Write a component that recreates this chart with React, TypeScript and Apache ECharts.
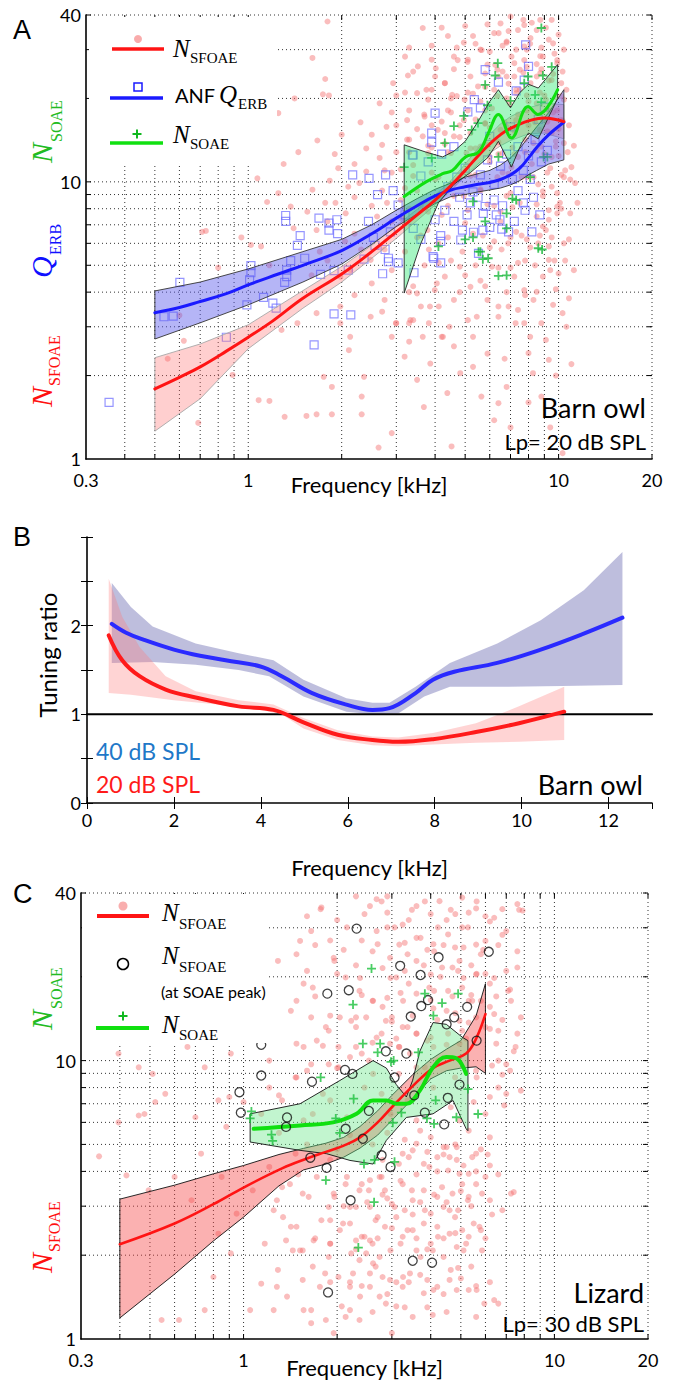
import React, { useEffect, useRef } from "react";
import * as echarts from "echarts";

const SANS = "Lato, 'Open Sans', sans-serif";
const SERIF = "'Liberation Serif', 'DejaVu Serif', serif";
const RED = "#ff1414";
const BLUE = "#1a1aff";
const GREEN = "#10e010";
const TXT_GREEN = "#22bb22";

// ---------------- grid / tick values ----------------
const logGridX = [0.4, 0.5, 0.6, 0.7, 0.8, 0.9, 1, 2, 3, 4, 5, 6, 7, 8, 9, 10, 20];
const logGridY = [2, 3, 4, 5, 6, 7, 8, 9, 10, 20, 30, 40];

// ---------------- Panel A (barn owl) ----------------
const aSfoaeLine = [[0.5,1.79],[0.6,1.97],[0.7,2.15],[0.85,2.45],[1.0,2.75],[1.2,3.15],[1.5,3.8],[2.0,4.65],[2.5,5.6],[3.0,6.6],[3.5,7.6],[4.0,8.6],[4.5,9.7],[5.0,11.0],[5.5,12.4],[6.0,13.7],[6.5,14.8],[7.0,15.6],[8.0,16.6],[9.0,17.0],[10.4,16.5]];
const aSfoaeUp = [[0.5,2.32],[0.7,2.6],[1.0,3.05],[1.5,4.05],[2.0,4.95],[2.5,5.9],[3.0,6.95],[3.5,7.95],[4.0,8.95],[4.5,10.1],[5.0,11.6],[5.5,13.2],[6.0,14.8],[6.5,16.2],[7.0,17.2],[8.0,18.5],[9.0,19.2],[10.4,19.0]];
const aSfoaeLo = [[0.5,1.26],[0.7,1.65],[1.0,2.5],[1.5,3.5],[2.0,4.35],[2.5,5.3],[3.0,6.25],[3.5,7.25],[4.0,8.25],[4.5,9.3],[5.0,10.5],[5.5,11.6],[6.0,12.7],[6.5,13.5],[7.0,14.1],[8.0,14.9],[9.0,15.0],[10.4,14.3]];
const aQerbLine = [[0.5,3.37],[0.6,3.52],[0.7,3.7],[0.85,3.95],[1.0,4.25],[1.25,4.65],[1.5,5.0],[2.0,5.65],[2.5,6.5],[3.0,7.4],[3.5,8.2],[4.0,8.9],[4.5,9.35],[5.0,9.6],[5.5,9.8],[6.0,9.95],[6.5,10.2],[7.0,10.6],[7.5,11.2],[8.0,12.2],[8.5,13.3],[9.3,14.8],[10.4,16.4]];
const aQerbUp = [[0.5,4.04],[0.7,4.35],[1.0,4.85],[1.5,5.6],[2.0,6.2],[2.5,7.0],[3.0,7.9],[3.5,8.7],[4.0,9.4],[4.5,9.9],[5.0,10.4],[5.5,10.7],[6.0,11.0],[6.5,11.5],[7.0,12.2],[7.5,13.2],[8.0,14.5],[8.5,15.8],[9.3,17.8],[10.4,21.5]];
const aQerbLo = [[0.5,2.71],[0.7,3.1],[1.0,3.6],[1.5,4.35],[2.0,5.05],[2.5,5.95],[3.0,6.9],[3.5,7.65],[4.0,8.35],[4.5,8.85],[5.0,9.0],[5.5,9.2],[6.0,9.35],[6.5,9.5],[7.0,9.75],[7.5,10.1],[8.0,10.6],[8.5,11.0],[9.3,11.6],[10.4,12.0]];
const aSoaeLine = [[3.18,8.85],[3.74,10.0],[4.23,10.7],[4.55,11.0],[5.01,12.3],[5.52,12.8],[5.94,15.0],[6.4,17.5],[7.05,14.4],[7.97,18.7],[8.58,17.5],[9.93,21.5]];
const aSoaeUp = [[3.18,13.6],[3.74,12.8],[4.23,12.3],[4.6,12.9],[5.0,14.0],[5.5,16.5],[6.0,19.5],[6.4,21.5],[7.0,18.5],[7.5,21.0],[8.0,22.5],[8.6,21.8],[9.93,26.5]];
const aSoaeLo = [[3.18,3.97],[3.6,6.0],[4.1,8.4],[4.6,9.8],[5.2,10.8],[5.9,12.2],[6.4,14.0],[7.05,11.3],[7.6,13.8],[8.0,15.0],[8.6,14.3],[9.93,20.0]];

const aSfoaeDotsLow = [
[0.62,2.67],[0.69,1.35],[0.89,2.01],[1.08,1.63],[1.17,1.62],[1.31,1.42],[1.54,1.43],[1.66,1.45],[1.75,1.98],[1.86,1.82],[1.86,1.45],[1.98,3.55],[2.11,2.47],[2.32,1.45],[2.36,1.98],[2.32,1.68],[2.63,1.1],[2.9,1.24],[2.99,3.09],[3.19,2.34],[3.4,3.17],[3.5,1.93],[3.68,1.54],[3.86,2.21],[4.24,2.76],[4.38,1.73],[4.52,1.11],[4.82,2.04],[5.3,2.15],[5.64,1.68],[6.2,1.38],[6.4,1.59],[6.8,1.82],[7.27,3.09],[8.0,2.41],[8.27,2.04],[8.8,1.68],[9.1,2.69],[9.3,2.28],[10.0,4.67],[10.3,3.36],[10.3,1.05],[8.5,4.01],[6.4,3.55],[5.1,3.17],
[10.8,6.2],[11.2,4.8],[10.6,3.0],[11.0,2.2],[9.6,3.6],[9.8,2.0],[8.6,6.0],[7.8,5.2],[7.0,4.9],[6.7,2.3],[5.9,2.4],[5.0,4.6],[5.6,4.4],[6.0,5.8],[7.6,6.4],[8.0,1.6],[7.0,1.3],[9.4,1.3]
];
const aSfoaeDotsMid = [
[1.80,37.9],[1.61,28],[1.77,23.5],[1.74,20.7],[1.82,20.5],[1.41,20],[1.25,17.7],[1.67,14.1],[1.83,10.1],[1.61,9.37],[1.25,9.1],[1.15,8.46],[1.37,8.14],[0.73,6.65],[1.66,6.7],[1.80,7.2],
[1.07,10.3],[0.71,6.6],[1.02,5.92],[1.1,5.85],[1.17,5.0],[1.77,8.4],[1.91,8.4],[2.06,7.7],[2.28,9.9],[2.65,12.2],[2.75,11.0],[2.2,6.5],[2.31,5.7],[2.48,5.23],[2.75,5.7],[2.13,4.8],[1.98,4.55],[1.66,3.36],[1.44,3.09],[1.28,2.92],[1.98,3.09],[2.13,2.76],[2.48,3.26],[2.75,3.75],[3.0,3.09],[2.9,2.76],[3.33,3.17],[3.65,2.76],[3.5,3.96],[3.85,3.55],[4.05,4.3],
[3.78,6.7],[3.82,5.7],[4.11,5.1],[4.3,4.55],[3.99,4.07],[3.6,3.55],[4.11,3.55],[4.6,3.75],[3.82,3.09],[3.3,3.09],[4.2,2.76],[3.3,2.65],[4.8,4.94],[6.1,4.94],[6.55,5.7],[6.88,6.0],[7.2,4.55],[7.75,4.07],[8.3,3.75],[8.9,4.55],[9.3,5.23],[9.1,6.7],[9.3,5.85],[9.9,7.7],[10.2,10.6],[9.9,9.1],[9.3,7.3],[8.5,7.5],[8.9,9.25],[7.4,3.45],[7.75,3.09],[6.9,3.55],[6.4,3.26],[5.9,3.75],[5.45,3.26],[5.3,2.76],[4.45,3.0],[4.6,2.55],[8.1,2.76],[8.8,3.09],[5.2,4.18],
[1.3,11.6],[1.45,12.8],[1.55,7.8],[1.95,11.2],[2.05,6.1],[1.7,5.6],[1.4,6.8],[0.8,4.9],[0.95,6.3],[0.6,3.3],[0.55,2.3],
[2.2,8.8],[2.4,10.9],[2.6,7.5],[2.8,8.4],[2.5,14.8],[2.7,13.6],[2.9,17.8],[3.0,20.5],[2.3,16.4],[2.1,9.6],[1.9,12.6],[2.5,4.3],[2.7,3.4],[2.2,3.9],[1.8,5.2],[1.6,4.6],[2.9,4.8],[3.2,5.6],[3.4,4.2]
];
const aSfoaeDotsHigh = [
[3.65,35.9],[4.02,25.7],[2.93,22.7],[2.65,19.2],[3.27,24.2],[2.79,15.8],[3.69,17.5],[3.25,16.7],[4.73,27.5],[5.09,27.1],[6.41,34.4],[6.8,32.1],[7.75,36.8],[8.73,38.4],[8.12,33],[7.2,26.8],[8.73,28.4],[9.6,31.6],[9.9,27.5],[10.2,22.7],[6.4,24],[5.8,22],[4.98,19.8],[7.3,20.9],[8.12,22.7],[4.3,22.7],[4.54,20.6],[3.75,21.5],[4.3,15],[5.1,18.1],[7.75,27.5],[5.65,29.9],[6.25,26.4],[7.75,30.8],[8.73,24.7],[9.9,18.1],[10.4,19.8],
[3.2,9.5],[3.4,11.5],[3.6,8.2],[3.8,13.5],[4.0,10.2],[4.2,7.6],[4.4,12.8],[4.6,8.9],[4.8,14.5],[5.0,7.1],[5.2,10.5],[5.4,13.2],[5.6,9.4],[5.8,16.2],[6.0,11.8],[6.2,8.2],[6.4,13.9],[6.6,10.8],[6.8,15.8],[7.0,9.1],[7.2,12.6],[7.4,17.5],[7.6,10.4],[7.8,14.2],[8.0,19.5],[8.2,11.6],[8.4,16.4],[8.6,9.8],[8.8,13.4],[9.0,20.5],[9.2,15.2],[9.4,11.2],[9.6,17.8],[9.8,14.0],[10.0,12.4],[10.3,16.6],[3.3,14.2],[3.9,16.0],[4.5,17.8],[5.3,20.8],[6.1,18.4],[6.9,22.6],[7.7,24.8],[8.5,26.6],[9.3,23.2],[3.1,7.4],[3.5,6.3],[4.1,6.0],[4.9,5.6],[5.7,6.4],[6.5,7.2],[7.3,6.6],[8.1,5.8],[8.9,6.9],[9.7,5.2],[10.1,8.4],[10.5,11.0],[2.5,8.2],[2.7,9.3],[2.9,10.8],[2.4,13.2],[2.2,11.6],[2.0,14.8],[2.9,7.2],[3.0,12.8],
[4.4,33.6],[3.3,30.5],[3.2,28.3],[3.52,26.1],[3.9,27.6],[4.6,28.3],[4.95,31.8],[5.3,33.6],[5.1,27.6],[5.6,30],[6.2,34.4],[6.5,37.3],[6.8,31.8],[7.0,39.5],[7.05,28.3],[7.4,35.3],[7.7,38.4],[7.9,30],[8.5,35.3],[8.9,28.3],[9.3,32.6],[9.5,38.4],[9.9,26.8],[10.4,30],[6.35,25.4],[5.8,24.6],[5.5,22.1],[6.8,24],[7.5,25.4],[8.5,24],[9.5,23.3],[10.2,20.4],[4.7,20.4],[4.3,22.7],[3.8,19.8],[3.5,20.9],[3.3,18.1],[3.7,17.2],[4.4,18.1],[4.95,16.7],[5.8,18.1],[6.35,20.4],[6.95,19.2],[7.5,21.5],[8.5,19.2],[9.3,18.1],[10.2,16.7],[9.5,15],[8.9,16.7],[7.9,18.1],[7.3,16.7],[6.5,15.4],[5.8,16.3],[5.2,15],[4.6,14.6],[4.08,15.4],[3.65,14.6],[3.25,14.2],[3.8,12.7],[4.5,12.7],[5.05,12.7],[5.6,13.4],[6.0,12.3],[6.6,12.7],[7.4,12.3],[8.5,13],[9.5,12.3],[10.4,13.8],[11.0,11.3],[11.3,9.9],[10.4,10.4],[9.5,9.6],[8.9,8.9],[11.5,8.4],[9.9,8.15],[3.1,11.1],[3.1,8.6],[3.5,9.3],[4.1,10.4],[4.6,9.9],[4.1,8.9],[4.95,8.9],[5.6,9.3],[6.35,10.4],[7.05,11.3],[7.9,10.4],[6.8,8.9],[7.5,8.4]
];
const aSfoaeDotsDense = [
[4.2,36],[5.0,36.5],[5.9,37],[6.9,35],[8.2,37.5],[9.1,36],[10.0,34],
[3.9,31],[4.7,30.5],[5.4,31.5],[6.0,29.5],[6.6,31],[7.3,30],[8.1,31.5],[8.8,30.5],[9.7,29],
[3.4,25],[4.0,24],[4.6,25.5],[5.2,24],[5.9,26.5],[6.6,25],[7.2,24],[7.9,26],[8.8,25.5],[9.6,24.5],[10.3,25],
[3.2,21],[3.9,21.5],[4.5,20],[5.1,21],[5.6,19.5],[6.2,21.5],[6.8,20],[7.3,21.5],[7.9,20.5],[8.7,21],[9.1,19.8],[9.8,20.2],[10.6,21.5],
[3.0,16],[3.5,15.5],[4.2,16.5],[4.8,16],[5.4,16.8],[6.0,15.7],[6.7,16.4],[7.2,15.3],[8.0,16],[8.7,15.4],[9.2,16.5],[10.0,15.5],[10.8,16],
[3.3,12.8],[3.9,13.3],[4.3,13.7],[5.2,13.2],[5.9,13.6],[6.4,12.6],[7.1,13.3],[7.8,12.8],[8.3,13.8],[9.0,12.6],[9.8,13.4],[10.7,12.8],[11.2,13.5],
[3.4,10.5],[3.9,10.8],[5.4,10.6],[6.9,10.7],[8.3,10.4],[9.2,10.8],[10.9,10.2],
[3.3,8.0],[3.8,7.8],[4.4,8.2],[5.1,7.9],[5.9,8.3],[6.5,7.8],[7.1,8.1],[8.5,8.3],[9.3,7.9],[10.2,8.0],[10.9,7.7],
[3.6,6.4],[4.4,6.3],[5.3,6.5],[6.2,6.1],[7.0,6.3],[7.9,6.2],[8.7,6.4],[9.5,6.3],[10.4,6.0],
[3.7,5.0],[4.5,5.2],[5.4,5.0],[6.4,4.9],[7.4,5.1],[8.4,5.0],[9.4,4.8],[10.5,5.2],
[3.3,4.0],[4.8,4.0],[5.8,4.2],[6.8,4.0],[7.8,3.9],[9.8,4.1],[10.8,3.8]
];
const aQerbSquares = [
[0.356,1.6],[0.535,3.26],[0.573,3.28],[0.602,4.34],[0.85,2.75],[1.63,2.58],
[1.32,7.56],[1.32,7.2],[1.69,7.4],[1.82,7.1],[1.82,6.7],[1.93,7.3],[1.94,6.5],[1.47,6.4],[1.44,5.9],[1.37,5.2],[1.52,5.3],[1.33,4.8],[1.33,4.55],[1.31,4.34],[1.02,4.99],[1.02,4.7],[1.01,4.43],[1.12,3.83],[1.2,3.65],[1.23,3.5],[0.99,3.6],[1.89,3.34],[2.14,3.31],[1.71,4.64],[1.89,4.78],[2.10,4.8],[2.17,10.6],[2.45,10.3],[2.77,10.6],[2.61,9.0],[2.93,9.3],[3.04,8.25],[2.44,7.2],[2.53,6.3],[2.56,5.9],[2.76,5.7],[2.83,5.3],[2.83,5.15],[2.36,5.26],[2.71,4.66],[3.04,5.1],[3.42,4.7],[2.87,6.6],[3.96,5.3],[4.17,5.1],[4.17,6.4],[3.40,12.5],
[4.17,6.1],[3.94,5.37],[4.84,6.17],[5.32,6.58],[5.52,5.52],[5.7,6.7],[6.0,6.85],[6.56,6.75],[6.9,6.6],[6.47,7.3],[4.9,6.7],[4.6,7.2],[5.07,7.6],[5.72,7.7],[6.3,7.6],[7.8,7.9],[7.7,8.4],[8.3,8.8],[6.2,8.6],[5.8,8.15],[4.3,7.9],[4.0,7.3],[7.4,9.3],[8.1,10.2],[5.5,8.8],[4.8,8.8],
[7.83,31.2],[5.8,25.4],[6.4,22.9],[5.35,19.8],[5.1,17.9],[5.6,18.5],[4.0,17.7],[3.9,15.0],[3.9,13.9],[3.38,12.5],[8.0,26.1],[7.3,21.3],[7.75,23.3],
[4.4,9.6],[4.7,10.4],[5.0,11.2],[5.3,9.2],[5.6,10.6],[5.9,12.0],[6.2,9.8],[6.5,11.4],[6.8,12.6],[7.1,10.2],[7.4,13.4],[7.7,11.0],[8.0,12.4],[8.4,14.2],[8.8,11.8],[9.2,13.0],[3.6,10.5],[3.8,11.8],[4.2,12.6],[4.6,13.4],[6.0,14.6],[7.0,15.8],[8.6,16.8],[9.0,18.6],[5.2,8.4],[6.6,8.2],[7.2,7.2],[8.2,6.6],[8.7,7.6],[3.2,7.6],[3.4,6.8],[3.6,6.2]
];
const aSoaeCrosses = [
[8.8,35.9],[6.37,26.8],[6.25,24.2],[5.8,22.4],[3.18,11.3],[4.6,15.9],[4.95,17.3],[5.25,15.4],[5.5,16.3],[5.9,18.9],[6.4,12.3],[7.75,22.7],[7.97,24.0],[8.9,24.2],[8.8,19.4],[9.2,12.3],[8.1,10.4],[7.3,8.6],[6.8,7.7],[5.3,8.5],[5.8,7.2],[6.8,6.8],[8.6,5.76],[4.1,5.85],[5.0,6.2],[5.3,6.3],[5.52,5.6],[5.7,5.26],[6.4,4.58],[7.1,8.7],[8.95,12.3],[5.6,5.6],[5.93,5.3],[6.8,4.6],[8.85,5.7],[8.4,20.6],[9.5,26.0],[7.0,19.6],[4.3,13.8],[3.9,12.2]
];

// ---------------- Panel B (tuning ratio) ----------------
const bQerb40Line = [[0.57,2.02],[0.9,1.92],[1.31,1.84],[2.0,1.73],[2.6,1.66],[3.19,1.61],[3.99,1.54],[4.48,1.43],[5.18,1.24],[5.97,1.11],[6.57,1.05],[6.96,1.07],[7.56,1.24],[7.96,1.39],[8.45,1.48],[9.44,1.58],[10.44,1.73],[11.43,1.91],[12.32,2.09]];
const bQerb40Up = [[0.57,2.48],[1.01,2.21],[1.51,1.99],[2.5,1.80],[3.49,1.69],[4.29,1.61],[4.98,1.39],[5.97,1.18],[6.57,1.13],[6.96,1.13],[7.56,1.31],[8.35,1.58],[9.44,1.80],[10.44,2.06],[11.43,2.40],[12.32,2.83]];
const bQerb40Lo = [[0.57,1.58],[1.51,1.59],[2.5,1.56],[3.49,1.50],[4.19,1.43],[4.98,1.20],[5.97,1.03],[6.57,1.0],[7.16,1.01],[7.76,1.20],[8.35,1.31],[9.44,1.31],[10.93,1.32],[12.32,1.33]];
const bRatio20Line = [[0.5,1.89],[0.81,1.61],[1.21,1.43],[1.81,1.28],[2.5,1.19],[3.49,1.09],[4.29,1.05],[4.98,0.91],[5.77,0.77],[6.57,0.71],[7.16,0.69],[7.96,0.72],[8.95,0.80],[9.94,0.90],[10.98,1.03]];
const bRatio20Up = [[0.5,2.53],[0.81,2.10],[1.21,1.76],[1.81,1.43],[2.5,1.26],[3.49,1.16],[4.29,1.11],[4.98,0.96],[5.77,0.82],[6.57,0.75],[7.16,0.74],[7.96,0.79],[8.95,0.90],[9.94,1.09],[10.98,1.31]];
const bRatio20Lo = [[0.5,1.24],[1.01,1.22],[2.0,1.16],[3.0,1.11],[4.0,1.05],[4.48,1.0],[4.98,0.84],[5.77,0.71],[6.57,0.65],[7.16,0.64],[7.96,0.66],[8.95,0.68],[9.94,0.69],[10.98,0.71]];
const bUnity = [[0, 1], [13, 1]];

// ---------------- Panel C (lizard) ----------------
const cSfoaeLine = [[0.4,2.19],[0.6,2.6],[0.8,3.05],[1.0,3.5],[1.33,4.1],[1.6,4.45],[1.84,4.7],[2.1,4.95],[2.37,5.3],[2.7,6.0],[3.0,6.8],[3.5,8.1],[4.07,9.4],[4.6,10.0],[5.2,10.6],[5.6,12.0],[6.0,14.7]];
const cSfoaeUp = [[0.4,3.18],[0.6,3.57],[0.8,3.92],[1.0,4.2],[1.3,4.6],[1.56,4.84],[1.84,5.05],[2.1,5.3],[2.37,5.8],[2.7,6.6],[3.0,7.5],[3.5,8.9],[4.0,10.1],[4.5,11.0],[5.0,11.8],[5.6,14.5],[6.0,18.9]];
const cSfoaeLo = [[0.4,1.19],[0.6,1.71],[0.8,2.25],[1.0,2.74],[1.3,3.55],[1.56,4.05],[1.84,4.25],[2.1,4.5],[2.37,4.85],[2.7,5.4],[3.0,6.1],[3.5,7.3],[4.0,8.6],[4.5,9.2],[5.0,9.4],[5.6,9.5],[6.0,9.0]];
const cSoaeLine = [[1.078,5.69],[1.52,5.85],[1.94,6.0],[2.31,6.44],[2.61,7.19],[2.88,7.19],[3.1,7.0],[3.34,7.0],[3.69,7.8],[4.07,9.46],[4.49,10.3],[4.83,10.2],[5.2,8.96]];
const cSoaeUp = [[1.05,6.44],[1.52,7.0],[2.04,8.48],[2.61,10.0],[2.88,9.4],[3.1,8.2],[3.34,7.4],[3.5,8.5],[3.69,10.8],[4.07,13.7],[4.49,13.5],[5.07,12.1],[5.27,11.8]];
const cSoaeLo = [[1.05,5.1],[1.52,4.76],[1.85,4.63],[2.2,4.38],[2.61,4.25],[2.88,5.17],[3.34,6.25],[4.07,6.44],[4.72,7.19],[5.2,5.69],[5.27,5.6]];

const cSfoaeDotsLow = [
[0.343,4.53],[0.396,6.0],[0.42,3.87],[0.46,6.35],[0.495,3.42],[0.52,7.1],[0.545,1.17],[0.6,3.82],[0.62,1.17],[0.68,3.15],[0.73,4.63],[0.75,1.27],[0.8,1.67],[0.83,2.39],[0.85,3.82],[0.88,5.78],[0.91,2.03],[0.95,2.82],[1.0,7.1],[1.05,1.27],[1.07,3.42],[1.14,1.58],[1.17,2.2],[1.21,4.15],[1.25,2.9],[1.29,1.77],[1.33,3.51],[1.38,1.42],[1.42,2.53],[1.47,4.63],[1.52,2.08],[1.56,1.27],[1.62,3.24],[1.67,1.82],[1.72,3.82],[1.78,2.67],[1.84,1.17],[1.9,2.2],[1.96,3.24],[2.02,1.67],[2.09,2.6],[2.15,3.82],[2.22,2.03],[2.3,2.98],[2.37,1.42],[2.45,2.33],[2.53,3.42],[2.61,1.87],[2.7,2.74],[2.78,3.82],[2.87,1.34],[2.97,2.08],[3.06,2.98],[3.16,4.26],[3.26,1.67],[3.37,2.46],[3.48,3.42],[3.6,5.03],[3.71,1.97],[3.83,2.9],[3.96,4.15],[4.08,1.5],[4.22,2.33],[4.35,3.51],[4.5,4.89],[4.64,1.77],[4.79,2.74],[4.95,3.92],[5.1,2.08],[5.27,3.15],[5.44,4.5],[5.62,1.5],[5.8,2.46],[6.0,3.82],[6.2,5.3],[6.6,1.34],[6.8,2.9],[7.25,3.33],
[1.3,5.5],[1.6,5.0],[2.0,4.8],[2.2,5.4],[2.6,5.0],[2.9,5.5],[3.3,5.2],[3.7,5.6],[4.0,5.3],[4.4,4.6],[4.8,5.0],[5.3,5.6],[5.8,4.8],[6.2,4.2],[2.4,3.6],[2.8,3.3],[3.2,3.7],[3.6,3.9],[4.2,4.0],[5.0,3.4],[1.5,3.9],[1.9,4.4],[3.0,2.5],[3.5,2.8],[4.6,2.9],[5.5,2.6],[2.6,2.2],[3.9,2.1],[4.9,1.8],[3.1,1.6],[2.2,1.6],[1.7,2.3],
[1.28,3.15],[1.41,3.6],[1.55,3.33],[1.34,2.74],[1.48,2.53],[1.68,2.26],[1.37,2.26],[1.44,2.08],[1.55,2.08],[1.28,1.54],[1.55,1.63],[1.76,1.54],[1.65,1.27],[1.88,2.98],[1.95,3.33],[1.9,2.67],[2.04,2.46],[2.2,2.6],[2.3,2.26],[2.4,2.33],[2.2,2.98],[2.36,3.42],[2.13,3.6],[2.55,3.72],[2.74,3.82],[2.85,3.42],[3.0,3.06],[3.25,3.6],[3.5,3.15],[3.8,3.42],[4.0,2.82],[4.2,3.24],[4.4,2.98],[4.7,3.33],[5.05,3.6],[5.3,3.24],[5.6,3.6],[5.85,3.33],[7.4,3.37],[6.2,3.15],[3.25,4.63],[3.5,4.76],[3.8,4.26],[4.2,4.5],[4.55,4.03],[4.85,4.4],[5.3,3.92],[5.6,4.63],[4.4,4.89],[4.85,4.89],
[2.55,2.98],[2.66,2.67],[2.85,2.53],[3.1,2.74],[3.25,2.33],[3.5,2.46],[3.8,2.6],[4.2,2.53],[4.6,2.39],[5.05,2.46],[5.3,2.33],[5.74,2.53],[2.55,2.26],[2.74,1.97],[2.66,1.82],[2.8,1.67],[2.55,1.54],[2.74,1.42],[2.96,1.63],[3.25,1.54],[3.43,1.72],[3.9,1.63],[3.8,1.46],[4.2,1.54],[4.6,1.63],[4.85,1.5],[5.3,1.5],[5.95,1.34],[6.4,1.38],[3.1,1.31],[3.5,1.2],[4.06,1.22],[2.13,1.2],[2.07,1.31],[2.36,1.17],[1.65,1.14],[1.25,1.27],[1.95,1.05],[3.0,1.05],[2.25,1.72],[2.36,1.92],[2.55,1.72],[1.88,1.97],[1.83,1.72],[2.2,1.54],[2.48,2.03],[3.6,2.08],[4.06,2.08],[4.4,1.97],[4.85,2.14],[5.4,1.82],[5.85,2.08],
[2.8,4.4],[3.4,4.5],[3.9,4.7],[4.6,4.5],[5.1,4.2],[5.6,4.0],[6.1,4.6],[6.6,3.9],
[2.1,3.0],[2.5,3.1],[2.9,3.2],[3.3,2.9],[3.7,3.1],[4.1,3.3],[4.5,3.1],[4.9,2.9],[5.4,3.0],[6.3,2.8],
[1.9,2.2],[2.3,2.1],[2.7,2.3],[3.2,2.2],[3.6,2.3],[4.0,2.2],[4.4,2.3],[4.8,2.4],[5.2,2.2],[6.0,2.3],
[1.9,1.6],[2.4,1.55],[2.9,1.45],[3.4,1.6],[3.7,1.7],[4.4,1.45],[5.0,1.65],[5.6,1.55],[6.2,1.6],
[2.2,1.27],[2.6,1.25],[3.3,1.3],[3.9,1.3],[4.5,1.25],[5.6,1.2]
];
const cSfoaeDotsHigh = [
[0.396,10.6],[0.46,9.46],[0.51,8.96],[0.56,7.6],[0.66,11.2],[0.75,9.46],[0.83,7.2],[0.91,10.6],[1.0,17.4],[1.1,13.2],[1.21,10.0],[1.29,22.8],[1.33,7.2],[1.42,15.1],[1.52,26.9],[1.56,11.2],[1.67,18.3],[1.78,35.5],[1.84,13.2],[1.96,22.8],[2.02,9.46],[2.15,30.1],[2.22,13.9],[2.37,19.8],[2.45,33.6],[2.53,10.0],[2.61,16.4],[2.7,26.2],[2.78,37.3],[2.87,13.9],[2.97,19.8],[3.06,30.1],[3.16,11.2],[3.26,16.4],[3.37,24.1],[3.48,34.8],[3.6,12.5],[3.71,27.6],[3.83,37.3],[3.96,18.3],[4.08,11.2],[4.22,30.1],[4.35,21.6],[4.5,15.1],[4.64,34.8],[4.79,25.5],[4.95,11.5],[5.1,19.8],[5.27,30.1],[5.44,16.4],[5.62,37.3],[5.8,24.1],[6.0,13.2],[6.2,31.6],[6.4,19.8],[6.8,28.3],[7.25,16.4],[7.7,34.8],[6.6,10.0],[7.0,7.6],[7.5,11.2],
[1.14,6.43],[1.56,6.1],[1.9,7.2],[2.45,8.0],[2.78,7.6],[3.37,7.2],[4.08,8.0],[4.64,6.8],[5.62,8.7],[6.0,6.43],[0.7,6.26],[0.48,6.43],[1.21,8.0],[1.47,8.7],[1.67,6.43],[2.15,6.26],[2.97,6.43],[3.6,6.1],[4.95,6.1],[2.02,11.2],[3.6,9.46],[4.22,10.0],[4.79,8.7],[3.16,8.96],[2.61,8.96],[2.3,11.2],[2.78,12.5],[3.37,13.2],[4.08,15.4],[4.95,13.9],[5.8,16.4],[6.4,14.7],[3.6,22.8],[4.08,26.2],[4.95,22.8],[5.62,20.5],[6.0,26.9],
[1.77,35],[2.3,38.9],[2.55,35.9],[2.68,38],[2.9,38.9],[3.6,35.9],[4.0,33.6],[4.27,37.4],[4.8,33.6],[5.05,38.5],[5.6,35.2],[6.4,32.6],[7.0,29.2],[7.6,36.5],[7.6,21.6],[7.1,17.8],[7.8,14.3],[7.6,12.5],[6.6,12.8],[6.2,15.6],[6.2,18.9],[5.6,20.4],[5.6,26.1],[5.05,30.1],[4.55,28.4],[4.1,24.7],[4.7,21.6],[4.0,20.4],[3.6,27.6],[3.25,30.8],[3.17,26.1],[2.9,30.1],[2.68,29.2],[2.6,24.7],[2.96,23.4],[3.1,19.9],[3.4,18.9],[3.6,17.4],[4.1,17.8],[4.55,17.8],[5.05,18.3],[5.3,16.4],[5.6,14.3],[5.05,12.8],[4.55,12.5],[4.0,12.1],[3.6,12.5],[3.25,13.2],[3.0,14.3],[2.8,15.6],[2.6,16.4],[2.36,17.8],[2.13,19.9],[1.95,23.4],[1.9,27],[1.65,29.2],[1.48,24.1],[1.56,18.9],[1.48,16.4],[1.65,14.3],[1.48,11.5],[1.72,11.8],[1.88,12.8],[2.04,14.3],[2.3,13.2],[2.48,14.3],[2.68,12.1],[2.96,11.5],[3.17,11.2],[3.43,10.6],[2.4,10.6],[2.2,10.3],[1.88,9.7],[1.65,9.7],[1.48,8.7],[3.83,9.45],[7.0,9.7],[7.4,10.8],[7.8,7.8],[6.6,8.0],[7.6,24.7],[7.9,34.6],
[1.6,33],[2.0,32],[2.9,34],[3.4,32],[4.5,32],[5.3,34],[6.0,33],[6.8,35],
[1.7,26],[2.1,25],[2.4,27],[3.3,26.5],[3.9,25],[4.4,26],[5.1,25.5],[5.9,25],[6.6,26],
[1.6,21],[2.0,20.5],[2.3,22],[2.8,21.5],[3.3,21],[3.8,22],[4.3,20],[4.9,21],[5.4,22],[6.0,20.5],[7.0,21],
[1.7,17],[2.4,17.2],[2.9,16.8],[3.2,17.5],[4.0,16.5],[4.7,17],[5.4,17.2],[6.5,17],[7.2,18],
[1.9,14.5],[2.3,14.3],[3.0,13.8],[3.5,14.5],[4.2,14],[4.8,14.8],[5.3,13.7],[6.2,13],[6.8,14],
[1.8,11.3],[2.6,11.6],[3.1,12],[3.9,11.8],[4.5,11.4],[5.2,12],[6.5,11.5],
[1.6,9.2],[2.0,9.4],[5.6,9.2],[6.3,9.6],[6.8,8.9],[7.2,9.2],
[0.9,7.4],[1.3,7.5],[1.8,7.6],[5.5,7.1],[6.2,7.4],[6.9,6.9]
];
const cPeakCircles = [
[2.31,29.8],[4.24,23.5],[6.15,24.6],[3.19,21.9],[3.71,20.3],[2.18,17.9],[1.86,17.4],[3.92,16.5],[3.73,15.7],[5.24,15.6],[3.45,14.4],[4.76,14.3],[4.5,13.5],[5.62,11.8],[2.87,10.8],[3.34,10.6],[2.12,9.26],[2.24,8.96],[1.14,8.84],[1.66,8.4],[3.06,8.7],[4.95,8.2],[0.97,7.7],[4.54,7.35],[0.98,6.5],[1.38,6.25],[2.53,6.6],[3.83,6.5],[4.42,5.9],[1.37,5.78],[2.13,5.69],[2.42,5.24],[1.64,4.48],[1.85,4.12],[2.78,4.57],[2.97,4.15],[2.21,3.15],[3.5,1.91],[4.04,1.88],[1.87,1.47],[3.54,7.5],[1.14,11.4]
];
const cSoaeCrosses = [
[2.58,21.4],[2.25,15.9],[3.83,17.4],[4.35,16.1],[4.9,17.4],[4.08,14.5],[2.42,11.5],[2.75,11.5],[2.7,10.7],[3.65,10.7],[3.04,10.0],[1.77,8.7],[2.26,7.3],[4.15,7.2],[5.27,7.9],[5.68,6.43],[4.84,6.26],[1.06,6.57],[1.05,6.2],[3.89,6.2],[1.23,5.42],[1.24,5.15],[1.98,6.2],[2.04,5.5],[2.98,9.9],[3.02,5.98],[3.22,6.5],[4.1,5.93],[2.44,4.25],[2.64,4.4],[3.06,4.33],[1.84,3.72],[2.63,3.1],[2.34,2.13]
];

// ---------------- helpers ----------------
const PLUS = "path://M-1,-5H1V-1H5V1H1V5H-1V1H-5V-1H-1Z";
const logFmt = (v: number) => String(Math.round(v * 10) / 10);

function frameSeries(ai: number, xr: number[], yr: number[]) {
  return {
    type: "custom", xAxisIndex: ai, yAxisIndex: ai, z: 1, silent: true, clip: false,
    data: [[xr[0], yr[0]]],
    renderItem: (_p: any, api: any) => {
      const ch: any[] = [];
      const dot = { stroke: "#333", lineWidth: 1, lineDash: [1, 3] };
      const tk = { stroke: "#000", lineWidth: 1 };
      logGridX.forEach((f) => {
        const a = api.coord([f, yr[0]]);
        const b = api.coord([f, yr[1]]);
        ch.push({ type: "line", shape: { x1: a[0], y1: a[1], x2: b[0], y2: b[1] }, style: dot });
        ch.push({ type: "line", shape: { x1: a[0], y1: a[1], x2: a[0], y2: a[1] - 5 }, style: tk });
        ch.push({ type: "line", shape: { x1: b[0], y1: b[1], x2: b[0], y2: b[1] + 5 }, style: tk });
      });
      logGridY.forEach((v) => {
        const a = api.coord([xr[0], v]);
        const b = api.coord([xr[1], v]);
        ch.push({ type: "line", shape: { x1: a[0], y1: a[1], x2: b[0], y2: b[1] }, style: dot });
        ch.push({ type: "line", shape: { x1: a[0], y1: a[1], x2: a[0] + 5, y2: a[1] }, style: tk });
        ch.push({ type: "line", shape: { x1: b[0], y1: b[1], x2: b[0] - 5, y2: b[1] }, style: tk });
      });
      return { type: "group", children: ch };
    },
  };
}

function bandSeries(xi: number, yi: number, up: number[][], lo: number[][], fill: string, stroke: string | null, z: number) {
  return {
    type: "custom", xAxisIndex: xi, yAxisIndex: yi, z, silent: true, clip: true,
    data: [[up[0][0], up[0][1]]],
    renderItem: (_p: any, api: any) => {
      const pts = up.map((p) => api.coord(p)).concat(lo.slice().reverse().map((p) => api.coord(p)));
      return {
        type: "polygon", shape: { points: pts },
        style: { fill, stroke: stroke || "none", lineWidth: stroke ? 0.9 : 0 },
      };
    },
  };
}

function lineSeries(xi: number, yi: number, data: number[][], color: string, width: number, z: number) {
  return {
    type: "line", xAxisIndex: xi, yAxisIndex: yi, data, smooth: 0.4, showSymbol: false, symbol: "none",
    lineStyle: { color, width, cap: "round" }, z, silent: true,
  };
}

function scatter(xi: number, yi: number, data: number[][], symbol: string, size: number, itemStyle: any, z: number) {
  return { type: "scatter", xAxisIndex: xi, yAxisIndex: yi, data, symbol, symbolSize: size, itemStyle, z, silent: true, large: false, progressive: 0 };
}

function txt(x: number, y: number, text: string, size: number, color = "#000", align = "left", family = SANS) {
  return { type: "text", x, y, z: 120, style: { text, fill: color, fontSize: size, fontFamily: family, align, verticalAlign: "middle" } };
}

function subText(x: number, y: number, main: string, sub: string, color: string, ms: number, ss: number, dx: number, dy: number, rot = false) {
  return {
    type: "group", x, y, rotation: rot ? Math.PI / 2 : 0, z: 120,
    children: [
      { type: "text", x: 0, y: -0.3 * ms, z: 120, style: { text: main, fill: color, fontSize: ms, fontFamily: SERIF, fontStyle: "italic", align: "left", verticalAlign: "middle" } },
      { type: "text", x: dx, y: dy - 0.3 * ss, z: 120, style: { text: sub, fill: color, fontSize: ss, fontFamily: SERIF, align: "left", verticalAlign: "middle" } },
    ],
  };
}

function plusMark(cx: number, cy: number, color: string) {
  return [
    { type: "rect", z: 121, shape: { x: cx - 4.5, y: cy - 1, width: 9, height: 2 }, style: { fill: color } },
    { type: "rect", z: 121, shape: { x: cx - 1, y: cy - 4.5, width: 2, height: 9 }, style: { fill: color } },
  ];
}

function legLine(x1: number, x2: number, y: number, color: string, w = 3.5) {
  return { type: "line", z: 121, shape: { x1, y1: y, x2, y2: y }, style: { stroke: color, lineWidth: w } };
}

function buildOption() {
  const axisLine = { show: true, onZero: false, lineStyle: { color: "#000", width: 1.6 } };
  const lbl = { color: "#000", fontSize: 18, fontFamily: SANS };
  const nameStyle = { color: "#000", fontSize: 22, fontFamily: SANS };

  const logX = (gi: number, gap: number) => ({
    type: "log", gridIndex: gi, min: 0.3, max: 20, logBase: 10, axisLine, axisTick: { show: false },
    splitLine: { show: false }, minorTick: { show: false }, minorSplitLine: { show: false },
    axisLabel: { ...lbl, margin: 12, formatter: logFmt },
    name: "Frequency [kHz]", nameLocation: "middle", nameGap: gap, nameMoveOverlap: false, nameTextStyle: nameStyle,
  });
  const logY = (gi: number) => ({
    type: "log", gridIndex: gi, min: 1, max: 40, logBase: 10, axisLine, axisTick: { show: false },
    splitLine: { show: false }, minorTick: { show: false }, minorSplitLine: { show: false },
    axisLabel: { ...lbl, margin: 5, formatter: (v: number) => String(Math.round(v)) },
  });

  const legendA = [
    { type: "rect", z: 110, shape: { x: 89, y: 17, width: 188, height: 146 }, style: { fill: "#fff" } },
    { type: "circle", z: 121, shape: { cx: 138, cy: 39, r: 4 }, style: { fill: "rgba(248,150,150,0.8)" } },
    legLine(112, 164, 49, RED),
    subText(173, 56, "N", "SFOAE", "#000", 25, 15, 17, 6),
    { type: "rect", z: 121, shape: { x: 134, y: 83, width: 8, height: 8 }, style: { fill: "none", stroke: BLUE, lineWidth: 1.5 } },
    legLine(110, 163, 98, BLUE),
    txt(175, 95, "ANF", 20),
    subText(219, 102, "Q", "ERB", "#000", 25, 15, 19, 6),
    ...plusMark(137, 134, "#10b820"),
    legLine(110, 163, 143, GREEN),
    subText(173, 142, "N", "SOAE", "#000", 25, 15, 17, 6),
  ];
  const legendC = [
    { type: "rect", z: 110, shape: { x: 82, y: 894, width: 186, height: 149 }, style: { fill: "#fff" } },
    { type: "circle", z: 121, shape: { cx: 123, cy: 906, r: 4.5 }, style: { fill: "rgba(248,160,160,0.85)" } },
    legLine(97, 149, 916, RED, 4),
    subText(162, 920, "N", "SFOAE", "#000", 25, 15, 17, 8),
    { type: "circle", z: 121, shape: { cx: 123, cy: 964, r: 5.5 }, style: { fill: "none", stroke: "#000", lineWidth: 1.5 } },
    subText(162, 963, "N", "SFOAE", "#000", 25, 15, 17, 8),
    txt(161, 991, "(at SOAE peak)", 16),
    ...plusMark(123, 1016, "#10b820"),
    legLine(96, 149, 1028, GREEN, 4),
    subText(162, 1032, "N", "SOAE", "#000", 25, 15, 17, 7),
  ];

  const graphic = [
    ...legendA,
    ...legendC,
    txt(13, 30, "A", 27, "#000", "left", "'Liberation Sans', Arial, sans-serif"),
    txt(13, 537, "B", 27, "#000", "left", "'Liberation Sans', Arial, sans-serif"),
    txt(13, 894, "C", 27, "#000", "left", "'Liberation Sans', Arial, sans-serif"),
    subText(50, 163, "N", "SOAE", TXT_GREEN, 30, 16, 21, 11, true),
    subText(50, 278, "Q", "ERB", "#1010ff", 30, 16, 23, 10, true),
    subText(50, 407, "N", "SFOAE", "#ff1010", 30, 16, 21, 9, true),
    subText(50, 1030, "N", "SOAE", TXT_GREEN, 30, 16, 21, 11, true),
    subText(50, 1273, "N", "SFOAE", "#ff1010", 30, 16, 21, 9, true),
    txt(646, 407, "Barn owl", 27, "#000", "right"),
    txt(646, 441, "Lp= 20 dB SPL", 22, "#000", "right"),
    txt(643, 784, "Barn owl", 27, "#000", "right"),
    txt(96, 751, "40 dB SPL", 23, "#1f78c8"),
    txt(96, 784, "20 dB SPL", 23, "#ff1a1a"),
    { type: "text", x: 47, y: 655, rotation: Math.PI / 2, z: 120, style: { text: "Tuning ratio", fill: "#000", fontSize: 24, fontFamily: SANS, align: "center", verticalAlign: "middle" } },
    txt(644, 1292, "Lizard", 27, "#000", "right"),
    txt(644, 1323, "Lp= 30 dB SPL", 22, "#000", "right"),
  ];

  const dotStyle = { color: "rgba(245,112,112,0.58)" };

  return {
    animation: false,
    backgroundColor: "#fff",
    grid: [
      { left: 86, top: 15, width: 566, height: 444 },
      { left: 87, top: 537, width: 565, height: 266 },
      { left: 81, top: 893, width: 567, height: 446 },
    ],
    xAxis: [
      logX(0, 14),
      {
        type: "value", gridIndex: 1, min: 0, max: 13, interval: 2, axisLine,
        axisTick: { show: true, inside: true, length: 6, lineStyle: { color: "#000" } },
        splitLine: { show: false }, axisLabel: { ...lbl, margin: 8, showMaxLabel: false },
        name: "Frequency [kHz]", nameLocation: "middle", nameGap: 53, nameMoveOverlap: false, nameTextStyle: nameStyle,
      },
      {
        type: "value", gridIndex: 1, position: "top", min: 0, max: 13, interval: 2,
        axisLine: { show: false }, axisTick: { show: true, inside: true, length: 6, lineStyle: { color: "#000" } },
        axisLabel: { show: false }, splitLine: { show: false },
      },
      logX(2, 17),
    ],
    yAxis: [
      logY(0),
      {
        type: "value", gridIndex: 1, min: 0, max: 3, interval: 0.5, axisLine,
        axisTick: { show: true, inside: true, length: 6, lineStyle: { color: "#000" } },
        splitLine: { show: false },
        axisLabel: { ...lbl, margin: 6, formatter: (v: number) => (v === 0 || v === 1 || v === 2 ? String(v) : "") },
      },
      {
        type: "value", gridIndex: 1, position: "right", min: 0, max: 3, interval: 0.5,
        axisLine: { show: false }, axisTick: { show: true, inside: true, length: 6, lineStyle: { color: "#000" } },
        axisLabel: { show: false }, splitLine: { show: false },
      },
      logY(2),
    ],
    series: [
      // Panel A
      frameSeries(0, [0.3, 20], [1, 40]),
      scatter(0, 0, aSfoaeDotsLow, "circle", 6, dotStyle, 2),
      scatter(0, 0, aSfoaeDotsMid, "circle", 6, dotStyle, 2),
      scatter(0, 0, aSfoaeDotsHigh, "circle", 6, dotStyle, 2),
      scatter(0, 0, aSfoaeDotsDense, "circle", 6, dotStyle, 2),
      scatter(0, 0, aQerbSquares, "rect", 8, { color: "rgba(0,0,0,0)", borderColor: "rgba(100,100,255,0.85)", borderWidth: 1.2 }, 3),
      scatter(0, 0, aSoaeCrosses, PLUS, 9, { color: "#18b83a" }, 4),
      bandSeries(0, 0, aSfoaeUp, aSfoaeLo, "rgba(255,110,110,0.33)", "#a8a8a8", 5),
      bandSeries(0, 0, aQerbUp, aQerbLo, "rgba(90,90,235,0.45)", "#333", 5),
      bandSeries(0, 0, aSoaeUp, aSoaeLo, "rgba(40,230,110,0.42)", "#222", 5),
      lineSeries(0, 0, aQerbLine, BLUE, 3, 6),
      lineSeries(0, 0, aSfoaeLine, RED, 3, 6),
      lineSeries(0, 0, aSoaeLine, GREEN, 3, 6),
      // Panel B
      bandSeries(1, 1, bQerb40Up, bQerb40Lo, "rgba(110,110,180,0.45)", null, 3),
      bandSeries(1, 1, bRatio20Up, bRatio20Lo, "rgba(255,120,120,0.32)", null, 3),
      lineSeries(1, 1, bUnity, "#000", 2, 4),
      lineSeries(1, 1, bQerb40Line, "#2a2aff", 4, 5),
      lineSeries(1, 1, bRatio20Line, "#ff1a1a", 4, 5),
      // Panel C
      frameSeries(3, [0.3, 20], [1, 40]),
      scatter(3, 3, cSfoaeDotsLow, "circle", 6, dotStyle, 2),
      scatter(3, 3, cSfoaeDotsHigh, "circle", 6, dotStyle, 2),
      bandSeries(3, 3, cSfoaeUp, cSfoaeLo, "rgba(245,70,70,0.42)", "#111", 4),
      bandSeries(3, 3, cSoaeUp, cSoaeLo, "rgba(110,230,140,0.42)", "#111", 4),
      scatter(3, 3, cPeakCircles, "circle", 9, { color: "rgba(0,0,0,0)", borderColor: "#111", borderWidth: 1.3 }, 7),
      scatter(3, 3, cSoaeCrosses, PLUS, 9, { color: "#1cc03c" }, 7),
      lineSeries(3, 3, cSfoaeLine, RED, 2.6, 6),
      lineSeries(3, 3, cSoaeLine, GREEN, 4, 6),
    ],
    graphic: { elements: graphic },
  };
}

export default function App() {
  const ref = useRef<HTMLDivElement>(null);
  useEffect(() => {
    document.body.style.margin = "0";
    const chart = echarts.init(ref.current as HTMLDivElement, null, { renderer: "svg" });
    chart.setOption(buildOption() as any);
    return () => chart.dispose();
  }, []);
  return <div ref={ref} style={{ width: 677, height: 1381, position: "absolute", left: 0, top: 0 }} />;
}
